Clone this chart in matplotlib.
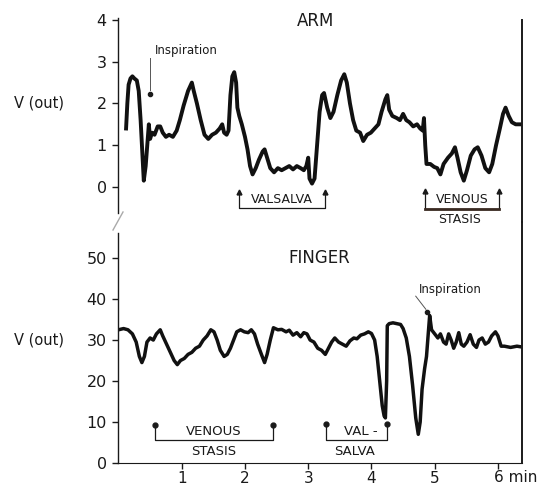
import numpy as np
import matplotlib.pyplot as plt

# ARM trace (minutes, volts)
arm_t = [0.12, 0.14, 0.16, 0.19, 0.22, 0.25, 0.29, 0.32, 0.35, 0.38, 0.40, 0.43, 0.46, 0.48,
         0.50, 0.53, 0.57, 0.62, 0.66, 0.70, 0.75, 0.80, 0.86, 0.92, 0.97, 1.03, 1.10, 1.16,
         1.19, 1.24, 1.30, 1.36, 1.42, 1.48, 1.54, 1.60, 1.64, 1.67, 1.71, 1.74, 1.77, 1.80,
         1.83, 1.86, 1.88, 1.91, 1.95, 2.00, 2.04, 2.08, 2.12, 2.17, 2.22, 2.28, 2.31, 2.35,
         2.40, 2.46, 2.52, 2.58, 2.64, 2.70, 2.76, 2.82, 2.88, 2.93, 2.97, 3.00, 3.02, 3.06,
         3.10, 3.14, 3.18, 3.22, 3.25, 3.30, 3.35, 3.40, 3.46, 3.52, 3.57, 3.61, 3.66, 3.71,
         3.76, 3.82, 3.87, 3.93, 3.99, 4.05, 4.11, 4.16, 4.22, 4.25, 4.28, 4.33, 4.40, 4.45,
         4.50, 4.55, 4.60, 4.66, 4.72, 4.77, 4.81, 4.83, 4.85, 4.87, 4.93, 4.99, 5.04, 5.09,
         5.14, 5.21, 5.27, 5.32, 5.36, 5.41, 5.46, 5.51, 5.57, 5.63, 5.68, 5.74, 5.80, 5.86,
         5.91, 5.97, 6.03, 6.08, 6.12, 6.17, 6.22, 6.28, 6.34, 6.38]
arm_v = [1.40, 2.00, 2.45, 2.60, 2.65, 2.60, 2.55, 2.30, 1.60, 0.70, 0.15, 0.50, 1.10, 1.50,
         1.15, 1.30, 1.25, 1.45, 1.45, 1.30, 1.20, 1.25, 1.20, 1.35, 1.60, 1.95, 2.30, 2.50,
         2.30, 2.00, 1.60, 1.25, 1.15, 1.25, 1.30, 1.40, 1.50, 1.30, 1.25, 1.35, 2.20, 2.65,
         2.75, 2.50, 1.90, 1.70, 1.50, 1.20, 0.90, 0.50, 0.30, 0.45, 0.65, 0.85, 0.90, 0.70,
         0.45, 0.35, 0.45, 0.40, 0.45, 0.50, 0.42, 0.50, 0.45, 0.40, 0.50, 0.70, 0.20, 0.08,
         0.20, 1.00, 1.80, 2.20, 2.25, 1.90, 1.65, 1.80, 2.20, 2.55, 2.70, 2.50, 2.00, 1.60,
         1.35, 1.30, 1.10, 1.25, 1.30, 1.40, 1.50, 1.80, 2.10, 2.20, 1.85, 1.70, 1.65, 1.60,
         1.75, 1.60, 1.55, 1.45, 1.50, 1.40, 1.35, 1.65, 1.00, 0.55, 0.55, 0.48, 0.45, 0.30,
         0.55, 0.70, 0.80, 0.95, 0.70, 0.35, 0.15, 0.40, 0.75, 0.90, 0.95, 0.75, 0.45, 0.35,
         0.55, 1.00, 1.40, 1.75, 1.90, 1.70, 1.55, 1.50, 1.50, 1.50]

# FINGER trace
finger_t = [0.00, 0.08, 0.15, 0.22, 0.28, 0.33, 0.37, 0.41, 0.45, 0.50, 0.55, 0.60, 0.66, 0.70,
            0.76, 0.82, 0.88, 0.93, 0.98, 1.04, 1.10, 1.16, 1.22, 1.28, 1.34, 1.40, 1.46, 1.51,
            1.56, 1.61, 1.67, 1.72, 1.77, 1.82, 1.87, 1.93, 1.99, 2.05, 2.10, 2.15, 2.20, 2.26,
            2.31, 2.35, 2.40, 2.45, 2.52, 2.58, 2.65, 2.70, 2.76, 2.82, 2.88, 2.93, 2.98, 3.03,
            3.09, 3.15, 3.21, 3.27, 3.32, 3.37, 3.42, 3.48, 3.54, 3.60, 3.66, 3.72, 3.77, 3.83,
            3.89, 3.95, 4.00, 4.05, 4.09, 4.13, 4.17, 4.20, 4.22, 4.24, 4.25, 4.28, 4.34, 4.40,
            4.46, 4.50, 4.55, 4.60, 4.65, 4.70, 4.74, 4.77, 4.80, 4.84, 4.87, 4.90, 4.92, 4.95,
            5.00, 5.05, 5.09, 5.14, 5.18, 5.22, 5.26, 5.30, 5.34, 5.38, 5.42, 5.46, 5.51, 5.56,
            5.61, 5.66, 5.70, 5.75, 5.80, 5.85, 5.90, 5.96, 6.00, 6.05, 6.10, 6.20, 6.30, 6.38]
finger_v = [32.5, 32.8, 32.5, 31.5, 29.5, 26.0, 24.5, 26.0, 29.5, 30.5, 30.0, 31.5, 32.5, 31.0,
            29.0, 27.0, 25.0, 24.0, 25.0, 25.5, 26.5, 27.0, 28.0, 28.5, 30.0, 31.0, 32.5, 32.0,
            30.0, 27.5, 26.0, 26.5, 28.0, 30.0, 32.0, 32.5, 32.0, 31.8, 32.5, 31.5, 29.0, 26.5,
            24.5, 26.5, 30.0, 33.0, 32.5, 32.6, 32.0, 32.4, 31.2, 31.8, 30.8, 31.8, 31.5, 30.0,
            29.5, 28.0, 27.5, 26.5, 28.0, 29.5, 30.5, 29.5, 29.0, 28.5, 29.8, 30.5, 30.3, 31.2,
            31.5, 32.0, 31.6, 30.0, 26.0, 20.0, 14.0, 11.5, 11.0, 20.0, 33.5, 34.0, 34.2, 34.0,
            33.8, 32.8, 30.5, 26.0, 19.0, 11.0, 7.0, 10.0, 18.0, 23.0, 26.0, 32.0, 36.0, 32.5,
            31.5, 30.5, 31.5, 29.5, 29.0, 31.5, 30.0, 28.0, 29.5, 31.8, 29.0, 28.5, 29.5, 31.3,
            29.0, 28.2, 30.0, 30.5, 29.0, 29.5, 31.0, 32.0, 31.0, 28.5, 28.5, 28.2, 28.5, 28.3]

# manoeuvre intervals (min)
arm_valsalva = (1.90, 3.26)
arm_stasis = (4.84, 6.01)
finger_stasis = (0.58, 2.45)
finger_valsalva = (3.28, 4.25)

arm_ticks = [0, 1, 2, 3, 4]
finger_ticks = [0, 10, 20, 30, 40, 50]
time_ticks = [1, 2, 3, 4, 5, 6]
time_labels = ['1', '2', '3', '4', '5', '']

ink = '#1a1a1a'
plt.rcParams['font.family'] = ['DejaVu Sans']

fig = plt.figure(figsize=(5.45, 4.91), dpi=100)
ax1 = fig.add_axes([0.2174, 0.5479, 0.7404, 0.4114])
ax2 = fig.add_axes([0.2174, 0.0570, 0.7404, 0.4909])
ax2.patch.set_alpha(0)
ax1.set_zorder(2)
ax1.patch.set_alpha(0)

ax1.plot(arm_t, arm_v, color='#111111', lw=2.8, solid_joinstyle='round')
ax2.plot(finger_t, finger_v, color='#111111', lw=2.5, solid_joinstyle='round')

for ax in (ax1, ax2):
    ax.set_xlim(0, 6.38)
    ax.spines['top'].set_visible(False)
    ax.spines['right'].set_linewidth(1.4)
    ax.spines['left'].set_linewidth(1.0)
    for s in ax.spines.values():
        s.set_color(ink)
    ax.tick_params(direction='out', length=4.5, width=1.0, labelsize=11.5,
                   pad=4, colors=ink)

ax1.set_ylim(-0.84, 4.0)
ax1.spines['bottom'].set_visible(False)
ax1.spines['left'].set_bounds(-0.62, 4.05)
ax1.set_yticks(arm_ticks)
ax1.set_xticks([])

ax2.set_ylim(0, 58.8)
ax2.spines['left'].set_bounds(0, 56)
ax2.set_yticks(finger_ticks)
ax2.set_xticks(time_ticks)
ax2.set_xticklabels(time_labels)
ax2.tick_params(axis='x', length=4, pad=1.5, labelsize=11)
ax2.text(5.93, -0.062, '6 min', transform=ax2.get_xaxis_transform(),
         ha='left', va='center', fontsize=11, color=ink)

# axis break mark
fig.add_artist(plt.Line2D([113 / 545, 123 / 545], [1 - 230 / 491, 1 - 212 / 491],
                          color='#aaaaaa', lw=1.0))

ax1.text(-0.197, 2.0, 'V (out)', transform=ax1.get_yaxis_transform(),
         ha='center', va='center', fontsize=10.5, color=ink)
ax2.text(-0.197, 30, 'V (out)', transform=ax2.get_yaxis_transform(),
         ha='center', va='center', fontsize=10.5, color=ink)

ax1.text(3.12, 3.97, 'ARM', ha='center', va='center', fontsize=12, color=ink)
ax2.text(3.17, 50, 'FINGER', ha='center', va='center', fontsize=12, color=ink)


def bracket(ax, span, ylo, yhi, marker, lw=0.9):
    x0, x1 = span
    ax.plot([x0, x0, x1, x1], [yhi, ylo, ylo, yhi], color=ink, lw=lw, clip_on=False)
    ax.plot([x0, x1], [yhi, yhi], ls='none', marker=marker, ms=3.5, color=ink,
            clip_on=False)


bracket(ax1, arm_valsalva, -0.50, -0.13, '^')
ax1.text(sum(arm_valsalva) / 2, -0.30, 'VALSALVA', ha='center', va='center',
         fontsize=9, color=ink)
bracket(ax1, arm_stasis, -0.53, -0.10, '^')
ax1.plot(arm_stasis, [-0.53, -0.53], color='#3a2a22', lw=2.0, clip_on=False)
ax1.text(5.43, -0.29, 'VENOUS', ha='center', va='center', fontsize=9, color=ink)
ax1.text(5.40, -0.78, 'STASIS', ha='center', va='center', fontsize=9, color=ink,
         clip_on=False)

bracket(ax2, finger_stasis, 5.7, 9.3, 'o')
ax2.text(1.50, 7.7, 'VENOUS', ha='center', va='center', fontsize=9.5, color=ink)
ax2.text(1.50, 2.7, 'STASIS', ha='center', va='center', fontsize=9.5, color=ink)
bracket(ax2, finger_valsalva, 5.7, 9.6, 'o')
ax2.text(3.83, 7.7, 'VAL -', ha='center', va='center', fontsize=9.5, color=ink)
ax2.text(3.74, 2.7, 'SALVA', ha='center', va='center', fontsize=9.5, color=ink)

# inspiration markers
ax1.text(1.08, 3.28, 'Inspiration', ha='center', va='center', fontsize=8.5, color=ink)
ax1.plot([0.50, 0.50], [3.08, 2.32], color='#555555', lw=0.7)
ax1.plot([0.50], [2.22], marker='o', ms=3, color=ink)
ax2.text(5.25, 42.3, 'Inspiration', ha='center', va='center', fontsize=8.5, color=ink)
ax2.plot([4.70, 4.86], [40.7, 37.5], color='#555555', lw=0.7)
ax2.plot([4.88], [36.8], marker='o', ms=3, color=ink)

fig.savefig('out.png', dpi=100)
